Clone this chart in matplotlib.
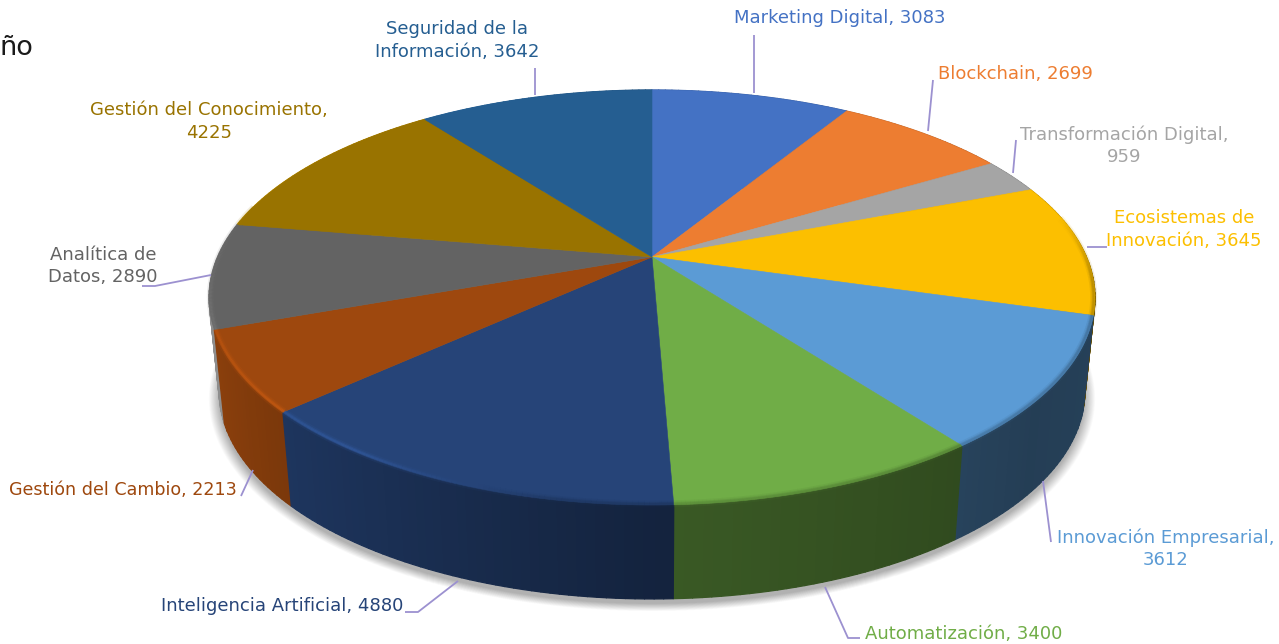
import numpy as np
import matplotlib
matplotlib.use("Agg")
import matplotlib.pyplot as plt
from matplotlib.collections import LineCollection, PolyCollection

categories = ["Marketing Digital", "Blockchain", "Transformación Digital", "Ecosistemas de Innovación",
              "Innovación Empresarial", "Automatización", "Inteligencia Artificial", "Gestión del Cambio",
              "Analítica de Datos", "Gestión del Conocimiento", "Seguridad de la Información"]
values = [3083, 2699, 959, 3645, 3612, 3400, 4880, 2213, 2890, 4225, 3642]
colors = ["#4472c4", "#ed7d31", "#a5a5a5", "#fcbf00", "#5b9bd5", "#70ad47",
          "#264478", "#9e480e", "#636363", "#997300", "#255e91"]
label_text = ["Marketing Digital, 3083", "Blockchain, 2699", "Transformación Digital,\n959",
              "Ecosistemas de\nInnovación, 3645", "Innovación Empresarial,\n3612", "Automatización, 3400",
              "Inteligencia Artificial, 4880", "Gestión del Cambio, 2213", "Analítica de\nDatos, 2890",
              "Gestión del Conocimiento,\n4225", "Seguridad de la\nInformación, 3642"]
label_xy = [(840, 18), (1015, 74), (1124, 145.5), (1184, 229.5), (1166, 548.5), (964, 634),
            (282, 606), (123, 490), (103, 266), (209, 121.5), (457, 40.5)]
label_size = [13, 13, 13, 13, 13, 13, 13, 12.6, 13, 13, 13]
leaders = [[(754, 35), (754, 93)], [(933, 80), (928, 131)], [(1016, 140), (1013, 173)],
           [(1087, 247), (1107, 247)], [(1043, 481), (1051, 542)], [(825, 587), (848, 638), (860, 638)],
           [(458, 581), (418, 612), (405, 612)], [(253, 470), (241, 496)],
           [(211, 275), (155, 286), (142, 286)], None, [(535, 95), (535, 68)]]

CX, CY, A, B, K = 652.0, 257.0, 434.5, 199.6, 0.195
DEPTH, SHRINK = 94.0, 0.977
FONT = ["DejaVu Sans"]


def top(theta, r=1.0):
    u, v = r * np.sin(theta), r * np.cos(theta)
    w = 1 + K * v
    return CX + A * u / w, CY - B * v / w


def bottom(theta, r=1.0):
    x, y = top(theta, r)
    return CX + (x - CX) * SHRINK, y + DEPTH


def shade(theta):
    d = np.degrees(theta) % 360
    return np.interp(d, [0, 70, 100, 130, 180, 215, 240, 250, 250.2, 285, 360],
                     [.85, .75, .42, .40, .52, .72, .84, .88, 1.45, 1.3, .85])


def mix(c, f):
    return tuple(np.clip(np.array(matplotlib.colors.to_rgb(c)) * f, 0, 1))


fig = plt.figure(figsize=(12.79, 6.44), dpi=100)
ax = fig.add_axes([0, 0, 1, 1])
ax.set_xlim(0, 1279)
ax.set_ylim(644, 0)
ax.axis("off")

edges = np.concatenate([[0], np.cumsum(values)]) / np.sum(values) * 2 * np.pi

# soft shadow
ring = np.linspace(0, 2 * np.pi, 360)
for i in range(26):
    s = 1.024 - i * 0.001
    x, y = bottom(ring)
    ax.fill(CX + (x - CX) * s, (y - 300) * s + 300 + 5, color="#000000", alpha=0.0105, lw=0, zorder=1)

# side strips
polys = []
for i, c in enumerate(colors):
    t = np.linspace(edges[i], edges[i + 1], max(8, int(np.degrees(edges[i + 1] - edges[i]))))
    for a, b in zip(t[:-1], t[1:]):
        tx0, ty0 = top(a)
        tx1, ty1 = top(b)
        bx0, by0 = bottom(a)
        bx1, by1 = bottom(b)
        polys.append(((ty0 + ty1), [(tx0, ty0), (tx1, ty1), (bx1, by1), (bx0, by0)], mix(c, shade((a + b) / 2))))
polys.sort(key=lambda p: p[0])
ax.add_collection(PolyCollection([p[1] for p in polys], facecolors=[p[2] for p in polys],
                                 edgecolors=[p[2] for p in polys], linewidths=0.9, zorder=2))

# top slices
for i, c in enumerate(colors):
    t = np.linspace(edges[i], edges[i + 1], 120)
    x, y = top(t)
    ax.fill(np.r_[CX, x], np.r_[CY, y], facecolor=c, edgecolor=c, lw=0.4, zorder=3)

# bevel along the rim
for width, alpha in [(7, 0.12), (4, 0.25), (2, 0.30)]:
    segs, scol = [], []
    for i, c in enumerate(colors):
        t = np.linspace(edges[i], edges[i + 1], 80)
        x, y = top(t, 0.997)
        for j in range(len(t) - 1):
            d = np.degrees(t[j]) % 360
            if d < 78 or d > 285:
                continue
            gain = np.interp(d, [78, 96, 190, 215, 250, 285], [1.0, .55, .75, 1.45, 1.25, 1.0])
            segs.append([(x[j], y[j]), (x[j + 1], y[j + 1])])
            scol.append(mix(c, gain) + (alpha,))
    ax.add_collection(LineCollection(segs, colors=scol, linewidths=width * 0.72, capstyle="butt", zorder=4))

# leader lines
for pts in leaders:
    if pts:
        ax.plot(*zip(*pts), color="#9c91d0", lw=1.3, zorder=5, solid_capstyle="butt")

# labels
for (x, y), txt, c, fs in zip(label_xy, label_text, colors, label_size):
    ax.text(x, y, txt, color=c, ha="center", va="center", fontsize=fs, family=FONT,
            linespacing=1.32, zorder=6)
ax.text(0, 48, "ño", color="#1a1a1a", ha="left", va="center", fontsize=19.5, family=FONT, zorder=6)

fig.savefig("out.png", dpi=100)
